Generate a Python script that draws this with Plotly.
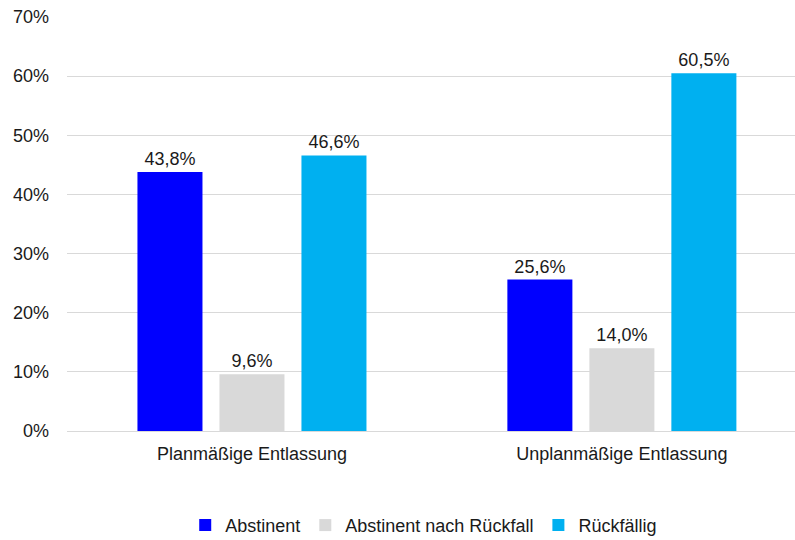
import plotly.graph_objects as go

# Entlassungsart und Abstinenzstatus (Anteile in %)
categories = ["Planmäßige Entlassung", "Unplanmäßige Entlassung"]
series_names = ["Abstinent", "Abstinent nach Rückfall", "Rückfällig"]
abstinent = [43.8, 25.6]
abstinent_nach_rueckfall = [9.6, 14.0]
rueckfaellig = [46.6, 60.5]
y_ticks = [0, 10, 20, 30, 40, 50, 60, 70]
y_tick_labels = [f"{t}%" for t in y_ticks]

series_values = [abstinent, abstinent_nach_rueckfall, rueckfaellig]
colors = ["#0000FF", "#D9D9D9", "#00B0F0"]

FONT = "Liberation Sans, Arial, Helvetica, sans-serif"
TEXT_COLOR = "#1a1a1a"

fig = go.Figure()
for name, vals, col in zip(series_names, series_values, colors):
    fig.add_trace(go.Bar(
        name=name,
        x=categories,
        y=vals,
        marker=dict(color=col, line=dict(width=0)),
        texttemplate="%{y:.1f}%",
        textposition="outside",
        textfont=dict(family=FONT, size=18, color=TEXT_COLOR),
        cliponaxis=False,
    ))

fig.update_layout(
    width=795,
    height=540,
    margin=dict(l=67, r=0, t=17, b=109, autoexpand=False),
    paper_bgcolor="white",
    plot_bgcolor="white",
    separators=",.",
    barmode="group",
    bargap=0.335,
    bargroupgap=0.207,
    font=dict(family=FONT, size=18, color=TEXT_COLOR),
    showlegend=True,
    legend=dict(
        orientation="h",
        x=0.49,
        xanchor="center",
        y=-0.228,
        yanchor="middle",
        font=dict(family=FONT, size=18, color=TEXT_COLOR),
        itemclick=False,
        traceorder="normal",
    ),
    xaxis=dict(
        type="category",
        range=[-0.5, 1.468],
        showgrid=False,
        showline=False,
        ticks="",
        ticklabelstandoff=10,
        tickfont=dict(family=FONT, size=18, color=TEXT_COLOR),
    ),
    yaxis=dict(
        range=[0, 70],
        tickmode="array",
        tickvals=y_ticks,
        ticktext=y_tick_labels,
        showgrid=True,
        gridcolor="#D9D9D9",
        gridwidth=1,
        zeroline=True,
        zerolinecolor="#D9D9D9",
        zerolinewidth=1,
        showline=False,
        ticks="",
        ticklabelstandoff=17,
        tickfont=dict(family=FONT, size=18, color=TEXT_COLOR),
    ),
)

fig.write_html("out.html")
